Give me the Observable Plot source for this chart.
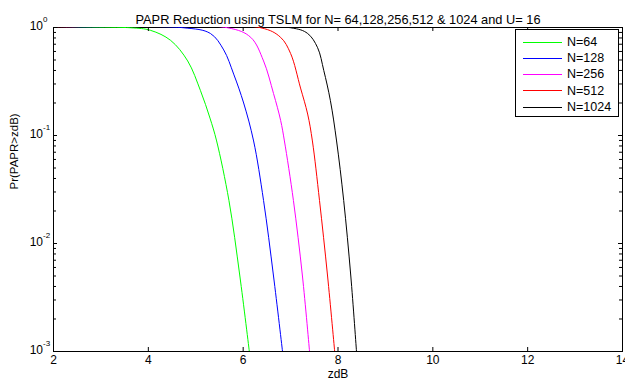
<!DOCTYPE html>
<html><head><meta charset="utf-8">
<script src="https://cdn.jsdelivr.net/npm/d3@7"></script>
<script src="https://cdn.jsdelivr.net/npm/@observablehq/plot@0.6"></script>
<style>html,body{margin:0;padding:0;background:#fff}svg{display:block}</style>
</head><body><div id="chart"></div>
<script>
// ---- data ----
const seriesNames = ["N=64", "N=128", "N=256", "N=512", "N=1024"];
const seriesColors = ["#00ff00", "#0000ff", "#ff00ff", "#ff0000", "#000000"];

const zdB_N64  = [2, 3.62, 4.05, 4.47, 4.83, 5.10, 5.30, 5.44, 5.70, 5.93, 6.13];
const pr_N64   = [1, 0.995, 0.94, 0.76, 0.49, 0.26, 0.145, 0.089, 0.025, 0.005, 0.001];
const zdB_N128 = [2, 4.74, 5.31, 5.59, 5.80, 6.01, 6.22, 6.43, 6.64, 6.83];
const pr_N128  = [1, 0.995, 0.88, 0.62, 0.37, 0.20, 0.089, 0.025, 0.005, 0.001];
const zdB_N256 = [2, 5.67, 6.16, 6.43, 6.64, 6.79, 6.87, 7.06, 7.25, 7.40];
const pr_N256  = [1, 0.995, 0.81, 0.49, 0.245, 0.138, 0.089, 0.025, 0.005, 0.001];
const zdB_N512 = [2, 6.37, 6.79, 7.00, 7.21, 7.36, 7.46, 7.61, 7.78, 7.93];
const pr_N512  = [1, 0.995, 0.81, 0.575, 0.275, 0.158, 0.089, 0.025, 0.005, 0.001];
const zdB_N1024 = [2, 7.00, 7.36, 7.57, 7.70, 7.84, 7.97, 8.12, 8.27, 8.39];
const pr_N1024  = [1, 0.995, 0.88, 0.65, 0.40, 0.21, 0.089, 0.025, 0.005, 0.001];

const xTicks = [2, 4, 6, 8, 10, 12, 14];
const yDecades = [1e-3, 1e-2, 1e-1, 1];
const yTickExponents = ["-3", "-2", "-1", "0"];
const titleText = "PAPR Reduction using TSLM for N= 64,128,256,512 & 1024 and U= 16";
const xLabelText = "zdB";
const yLabelText = "Pr(PAPR>zdB)";

// ---- build table ----
const seriesX = [zdB_N64, zdB_N128, zdB_N256, zdB_N512, zdB_N1024];
const seriesY = [pr_N64, pr_N128, pr_N256, pr_N512, pr_N1024];
const rows = [];
seriesNames.forEach((name, i) => {
  seriesX[i].forEach((z, j) => rows.push({series: name, z, p: seriesY[i][j]}));
});
const minorTicks = [];
for (let e = -3; e < 0; e++) for (let k = 2; k <= 9; k++) minorTicks.push(k * Math.pow(10, e));

// ---- layout ----
const W = 625, H = 383, mL = 53, mR = 3, mT = 27, mB = 32;
const innerW = W - mL - mR, innerH = H - mT - mB;
const font = "'Liberation Sans', Arial, Helvetica, sans-serif";

const chart = Plot.plot({
  width: W, height: H,
  marginLeft: mL, marginRight: mR, marginTop: mT, marginBottom: mB,
  style: {fontFamily: font, fontSize: "12px", background: "white", color: "black", overflow: "visible"},
  x: {domain: [2, 14], axis: null},
  y: {type: "log", domain: [1e-3, 1], axis: null},
  color: {domain: seriesNames, range: seriesColors},
  marks: [
    Plot.frame({stroke: "black", strokeWidth: 1}),
    Plot.line(rows, {x: "z", y: "p", z: "series", stroke: "series", strokeWidth: 1, curve: "catmull-rom", clip: true}),
    Plot.tickX(xTicks, {x: d => d, insetTop: innerH - 4, stroke: "black"}),
    Plot.tickX(xTicks, {x: d => d, insetBottom: innerH - 4, stroke: "black"}),
    Plot.tickY(yDecades, {y: d => d, insetRight: innerW - 4, stroke: "black"}),
    Plot.tickY(yDecades, {y: d => d, insetLeft: innerW - 4, stroke: "black"}),
    Plot.tickY(minorTicks, {y: d => d, insetRight: innerW - 3, stroke: "black"}),
    Plot.tickY(minorTicks, {y: d => d, insetLeft: innerW - 3, stroke: "black"}),
    Plot.text(xTicks, {x: d => d, frameAnchor: "bottom", lineAnchor: "top", dy: 4, fontSize: 12, text: d => String(d), fill: "black"}),
    Plot.text(yDecades, {y: d => d, frameAnchor: "left", textAnchor: "end", dx: -10.5, dy: -1, fontSize: 12, text: () => "10", fill: "black"}),
    Plot.text(yDecades, {y: d => d, frameAnchor: "left", textAnchor: "start", dx: -10.5, dy: -8, fontSize: 8, text: (d, i) => yTickExponents[i], fill: "black"}),
    Plot.text([titleText], {frameAnchor: "top", dy: -13, fontSize: 12.8, text: d => d, fill: "black"}),
    Plot.text([xLabelText], {frameAnchor: "bottom", dy: 26, fontSize: 12, text: d => d, fill: "black"}),
    Plot.text([yLabelText], {frameAnchor: "left", dx: -39, rotate: -90, fontSize: 11.5, text: d => d, fill: "black"})
  ]
});

// ---- legend (inside the axes, top right) ----
const svg = d3.select(chart);
const lg = svg.append("g").attr("font-family", font).attr("font-size", 12.5).attr("text-anchor", "start");
lg.append("rect").attr("x", 515.5).attr("y", 29.5).attr("width", 103).attr("height", 87)
  .attr("fill", "white").attr("stroke", "black").attr("stroke-width", 1);
seriesNames.forEach((name, i) => {
  const yy = 41.5 + i * 16.3;
  lg.append("line").attr("x1", 523).attr("x2", 562).attr("y1", Math.round(yy) + 0.5).attr("y2", Math.round(yy) + 0.5)
    .attr("stroke", seriesColors[i]).attr("stroke-width", 1);
  lg.append("text").attr("x", 567).attr("y", yy).attr("dy", "0.35em").attr("fill", "black")
    .attr("text-anchor", "start").text(name);
});

document.getElementById("chart").appendChild(chart);
</script>
</body></html>
